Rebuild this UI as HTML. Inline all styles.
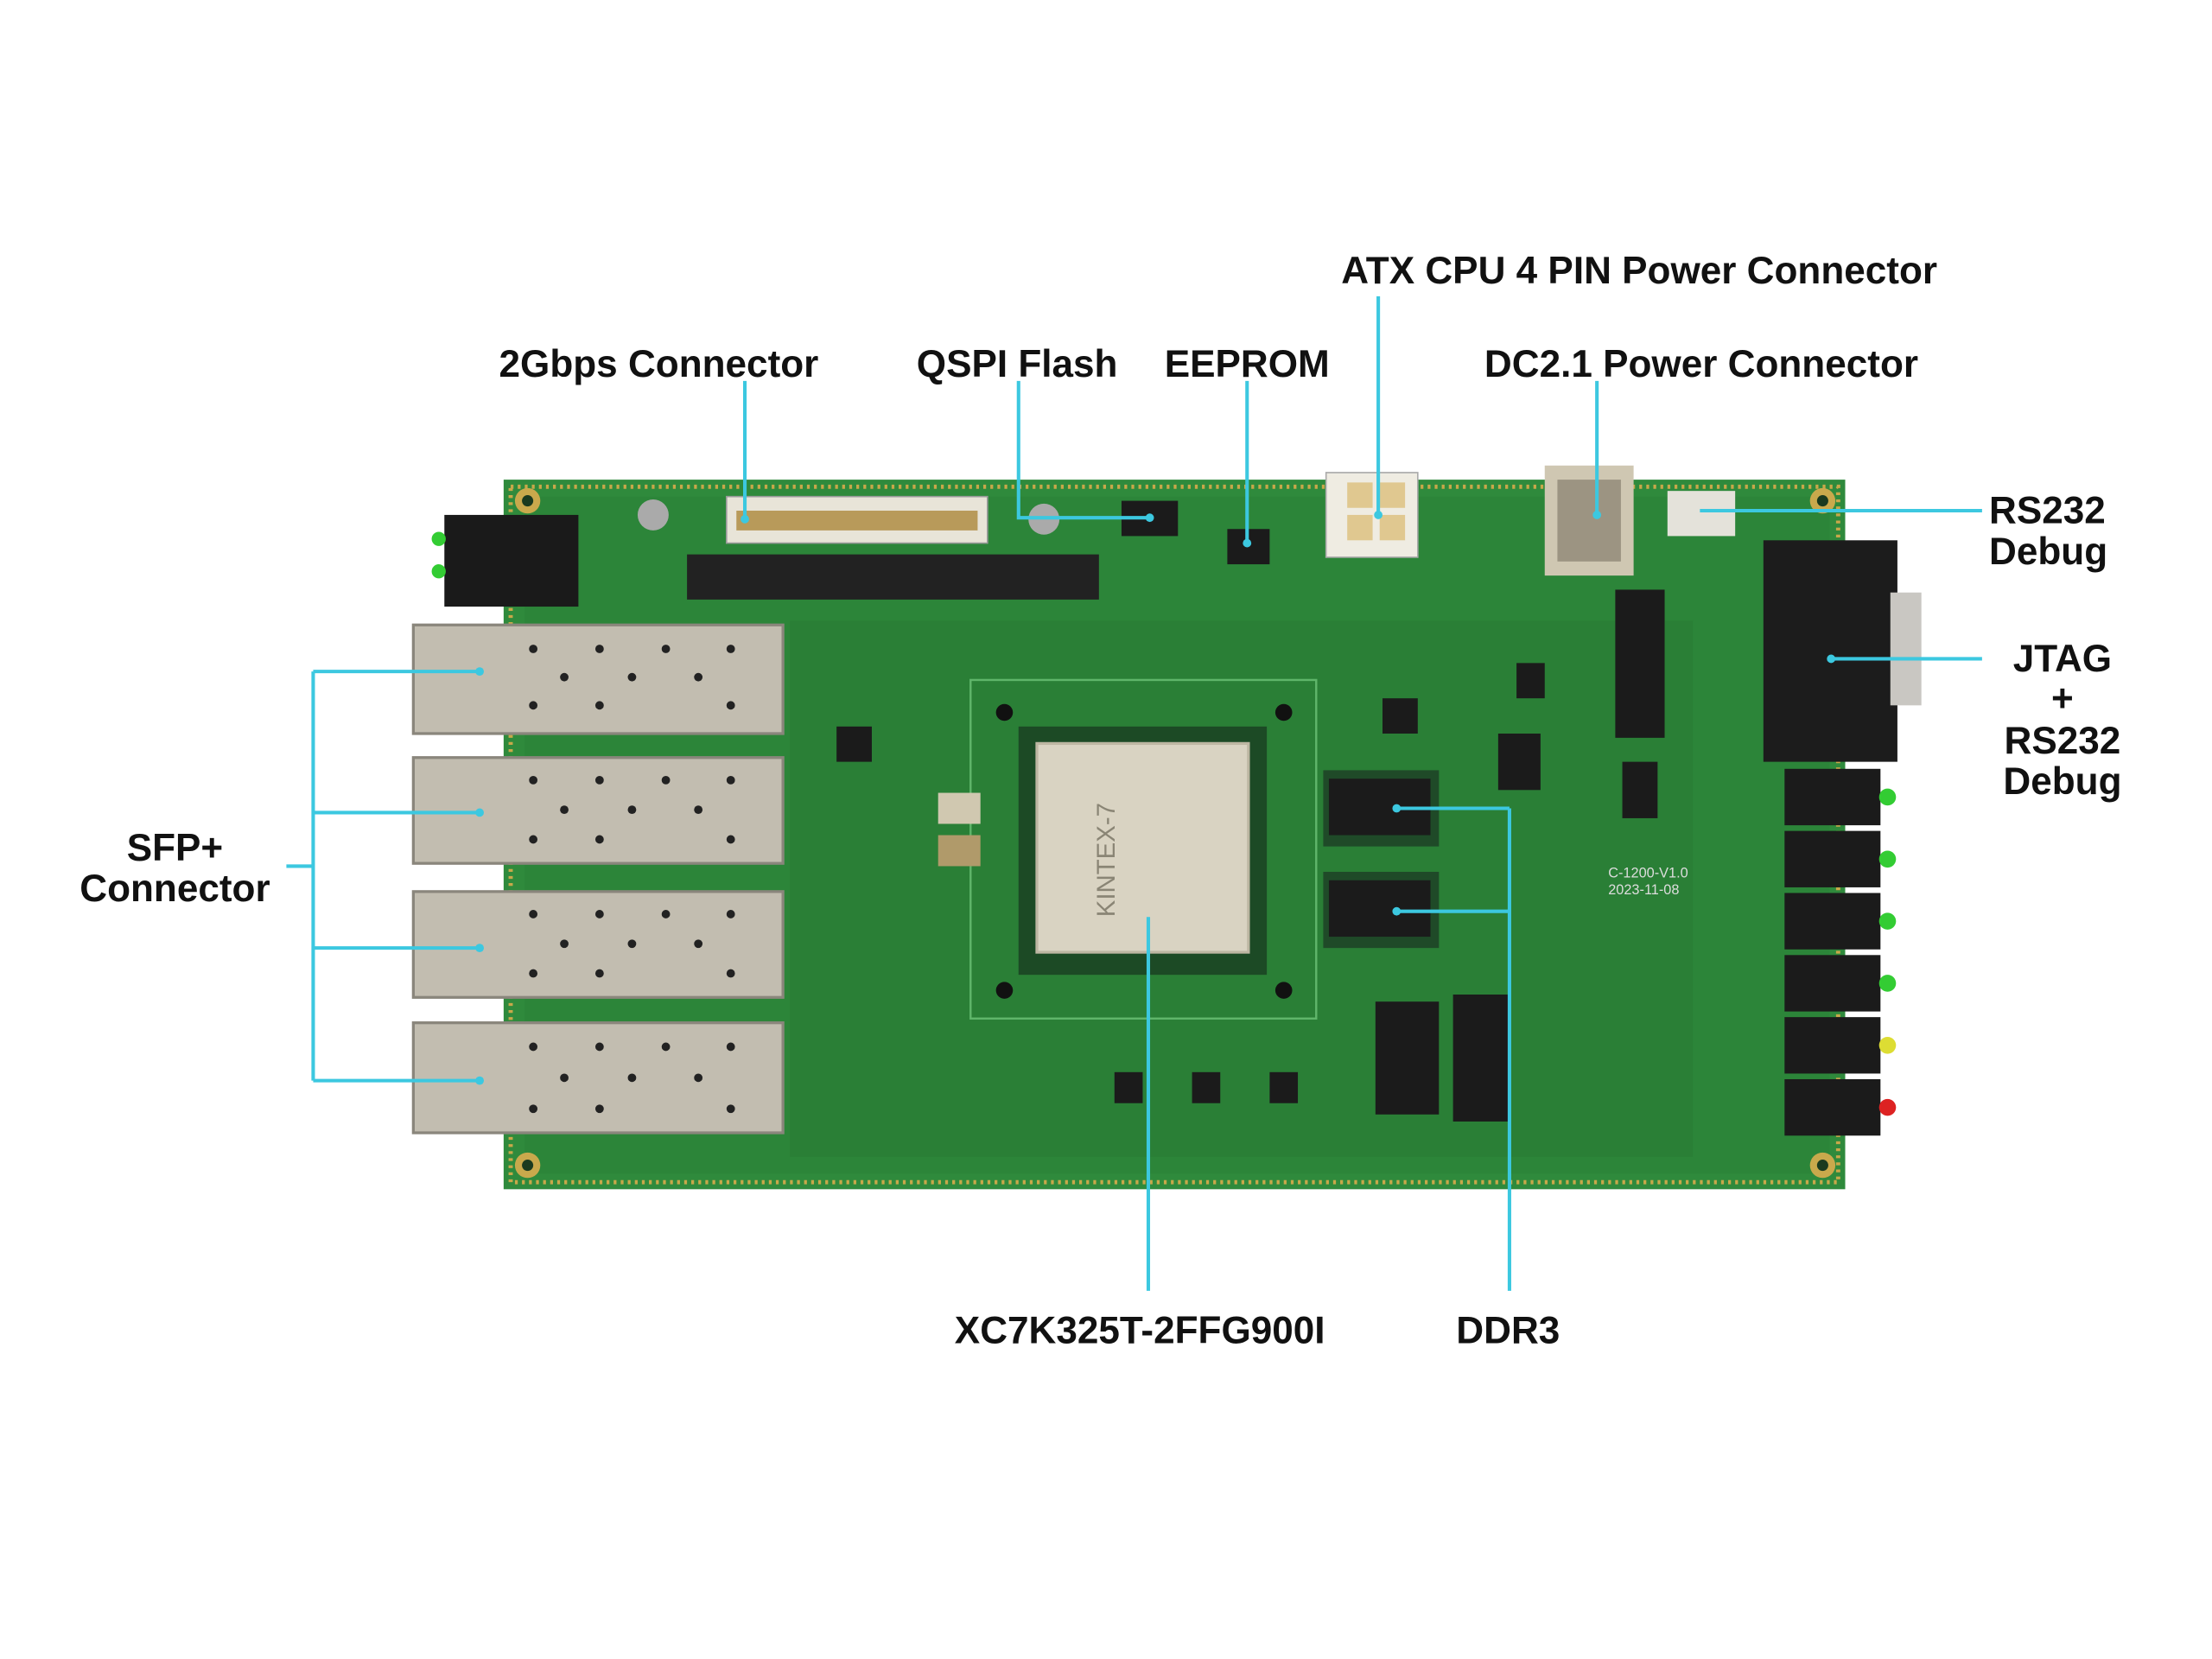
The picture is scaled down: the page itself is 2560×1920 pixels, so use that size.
<!DOCTYPE html>
<html><head><meta charset="utf-8"><style>
html,body{margin:0;padding:0;background:#fff;}
svg{display:block}
text{font-family:"Liberation Sans","DejaVu Sans",sans-serif;font-weight:bold;fill:#111;font-size:27px}
</style></head><body>
<svg width="2560" height="1920" viewBox="0 0 1568 1176" preserveAspectRatio="none" xmlns="http://www.w3.org/2000/svg">
<rect width="1568" height="1176" fill="#fff"/>
<!-- board -->
<rect x="357" y="340" width="951" height="503" fill="#2f8a3c"/>
<rect x="362" y="345" width="941" height="493" fill="none" stroke="#c8a84a" stroke-width="3" stroke-dasharray="2 3"/>
<rect x="372" y="352" width="925" height="480" fill="#2c8539"/>
<rect x="560" y="440" width="640" height="380" fill="#2a7f36"/>
<g fill="#c9a94c"><circle cx="374" cy="355" r="9"/><circle cx="1292" cy="355" r="9"/><circle cx="374" cy="826" r="9"/><circle cx="1292" cy="826" r="9"/></g>
<g fill="#1a3a1f"><circle cx="374" cy="355" r="4"/><circle cx="1292" cy="355" r="4"/><circle cx="374" cy="826" r="4"/><circle cx="1292" cy="826" r="4"/></g>
<!-- FPGA area -->
<rect x="688" y="482" width="245" height="240" fill="none" stroke="#5fb56a" stroke-width="1.5"/>
<rect x="722" y="515" width="176" height="176" fill="#1c4a25"/>
<rect x="735" y="527" width="150" height="148" fill="#d9d3c2" stroke="#bdb6a2" stroke-width="2"/>
<text x="0" y="0" transform="translate(790,650) rotate(-90)" style="font-size:18px;font-weight:normal;fill:#8a8575">KINTEX-7</text>
<g fill="#111"><circle cx="712" cy="505" r="6"/><circle cx="910" cy="505" r="6"/><circle cx="712" cy="702" r="6"/><circle cx="910" cy="702" r="6"/></g>
<!-- DDR -->
<rect x="938" y="546" width="82" height="54" fill="#1f4a28"/><rect x="942" y="552" width="72" height="40" fill="#1b1b1b"/>
<rect x="938" y="618" width="82" height="54" fill="#1f4a28"/><rect x="942" y="624" width="72" height="40" fill="#1b1b1b"/>
<!-- top connector and chips -->
<rect x="515" y="352" width="185" height="33" fill="#e8e4d8" stroke="#999"/>
<rect x="522" y="362" width="171" height="14" fill="#b89a5a"/>
<rect x="487" y="393" width="292" height="32" fill="#222"/>
<circle cx="463" cy="365" r="11" fill="#aaa"/><circle cx="740" cy="368" r="11" fill="#aaa"/>
<rect x="795" y="355" width="40" height="25" fill="#1b1b1b"/>
<rect x="870" y="375" width="30" height="25" fill="#1b1b1b"/>
<rect x="315" y="365" width="95" height="65" fill="#1a1a1a"/>
<circle cx="311" cy="382" r="5" fill="#3c3"/><circle cx="311" cy="405" r="5" fill="#3c3"/>
<!-- ATX -->
<rect x="940" y="335" width="65" height="60" fill="#efece2" stroke="#aaa"/>
<rect x="955" y="342" width="18" height="18" fill="#e0c890"/><rect x="978" y="342" width="18" height="18" fill="#e0c890"/>
<rect x="955" y="365" width="18" height="18" fill="#e0c890"/><rect x="978" y="365" width="18" height="18" fill="#e0c890"/>
<!-- DC jack -->
<rect x="1095" y="330" width="63" height="78" fill="#cfc7b2"/><rect x="1104" y="340" width="45" height="58" fill="#9c9482"/>
<rect x="1182" y="348" width="48" height="32" fill="#e4e2da"/>
<!-- JTAG header, DB9 -->
<rect x="1145" y="418" width="35" height="105" fill="#1b1b1b"/>
<rect x="1250" y="383" width="95" height="157" fill="#1c1c1c"/>
<rect x="1340" y="420" width="22" height="80" fill="#c9c7c2"/>
<rect x="1062" y="520" width="30" height="40" fill="#1b1b1b"/>
<rect x="1030" y="705" width="40" height="90" fill="#1b1b1b"/>
<!-- right headers -->
<g fill="#1b1b1b">
<rect x="1265" y="545" width="68" height="40"/><rect x="1265" y="589" width="68" height="40"/><rect x="1265" y="633" width="68" height="40"/>
<rect x="1265" y="677" width="68" height="40"/><rect x="1265" y="721" width="68" height="40"/><rect x="1265" y="765" width="68" height="40"/></g>
<g><circle cx="1338" cy="565" r="6" fill="#3c3"/><circle cx="1338" cy="609" r="6" fill="#3c3"/><circle cx="1338" cy="653" r="6" fill="#3c3"/><circle cx="1338" cy="697" r="6" fill="#3c3"/><circle cx="1338" cy="741" r="6" fill="#dd3"/><circle cx="1338" cy="785" r="6" fill="#d22"/></g>
<text x="1140" y="622" style="font-size:10px;font-weight:normal;fill:#ddd">C-1200-V1.0</text>
<text x="1140" y="634" style="font-size:10px;font-weight:normal;fill:#ddd">2023-11-08</text>
<!-- misc chips -->
<g fill="#1b1b1b">
<rect x="593" y="515" width="25" height="25"/><rect x="980" y="495" width="25" height="25"/><rect x="1075" y="470" width="20" height="25"/>
<rect x="790" y="760" width="20" height="22"/><rect x="845" y="760" width="20" height="22"/><rect x="900" y="760" width="20" height="22"/>
<rect x="975" y="710" width="45" height="80"/><rect x="1150" y="540" width="25" height="40"/>
</g>
<rect x="665" y="562" width="30" height="22" fill="#d0c8b0"/><rect x="665" y="592" width="30" height="22" fill="#b09a6a"/>
<!-- SFP cages -->
<g fill="#c2bdb0" stroke="#8a867c" stroke-width="2">
<rect x="293" y="443" width="262" height="77"/><rect x="293" y="537" width="262" height="75"/>
<rect x="293" y="632" width="262" height="75"/><rect x="293" y="725" width="262" height="78"/></g>
<g fill="#222">
<circle cx="378" cy="460" r="3"/><circle cx="425" cy="460" r="3"/><circle cx="472" cy="460" r="3"/><circle cx="518" cy="460" r="3"/><circle cx="400" cy="480" r="3"/><circle cx="448" cy="480" r="3"/><circle cx="495" cy="480" r="3"/><circle cx="378" cy="500" r="3"/><circle cx="425" cy="500" r="3"/><circle cx="518" cy="500" r="3"/>
<circle cx="378" cy="553" r="3"/><circle cx="425" cy="553" r="3"/><circle cx="472" cy="553" r="3"/><circle cx="518" cy="553" r="3"/><circle cx="400" cy="574" r="3"/><circle cx="448" cy="574" r="3"/><circle cx="495" cy="574" r="3"/><circle cx="378" cy="595" r="3"/><circle cx="425" cy="595" r="3"/><circle cx="518" cy="595" r="3"/>
<circle cx="378" cy="648" r="3"/><circle cx="425" cy="648" r="3"/><circle cx="472" cy="648" r="3"/><circle cx="518" cy="648" r="3"/><circle cx="400" cy="669" r="3"/><circle cx="448" cy="669" r="3"/><circle cx="495" cy="669" r="3"/><circle cx="378" cy="690" r="3"/><circle cx="425" cy="690" r="3"/><circle cx="518" cy="690" r="3"/>
<circle cx="378" cy="742" r="3"/><circle cx="425" cy="742" r="3"/><circle cx="472" cy="742" r="3"/><circle cx="518" cy="742" r="3"/><circle cx="400" cy="764" r="3"/><circle cx="448" cy="764" r="3"/><circle cx="495" cy="764" r="3"/><circle cx="378" cy="786" r="3"/><circle cx="425" cy="786" r="3"/><circle cx="518" cy="786" r="3"/>
</g>
<!-- leader lines -->
<g stroke="#3cc8e0" stroke-width="2.5" fill="none">
<path d="M528 270V368"/><path d="M722 270V367H815"/><path d="M884 270V385"/>
<path d="M977 210V365"/><path d="M1132 270V365"/><path d="M1205 362H1405"/><path d="M1298 467H1405"/>
<path d="M222 476V766M222 476H340M222 576H340M222 672H340M222 766H340M203 614H222"/>
<path d="M814 650V915"/><path d="M1070 573V915M990 573H1070M990 646H1070"/>
</g>
<g fill="#3cc8e0"><circle cx="528" cy="368" r="3"/><circle cx="815" cy="367" r="3"/><circle cx="884" cy="385" r="3"/><circle cx="977" cy="365" r="3"/><circle cx="1132" cy="365" r="3"/><circle cx="1298" cy="467" r="3"/><circle cx="340" cy="476" r="3"/><circle cx="340" cy="576" r="3"/><circle cx="340" cy="672" r="3"/><circle cx="340" cy="766" r="3"/><circle cx="990" cy="573" r="3"/><circle cx="990" cy="646" r="3"/></g>
<!-- labels -->
<text x="467" y="267" text-anchor="middle">2Gbps Connector</text>
<text x="721" y="267" text-anchor="middle">QSPI Flash</text>
<text x="884" y="267" text-anchor="middle">EEPROM</text>
<text x="1162" y="201" text-anchor="middle">ATX CPU 4 PIN Power Connector</text>
<text x="1206" y="267" text-anchor="middle">DC2.1 Power Connector</text>
<text x="1410" y="371">RS232</text>
<text x="1410" y="400">Debug</text>
<text x="1462" y="476" text-anchor="middle">JTAG</text>
<text x="1462" y="504" text-anchor="middle">+</text>
<text x="1462" y="534" text-anchor="middle">RS232</text>
<text x="1462" y="563" text-anchor="middle">Debug</text>
<text x="124" y="610" text-anchor="middle">SFP+</text>
<text x="124" y="639" text-anchor="middle">Connector</text>
<text x="808" y="952" text-anchor="middle">XC7K325T-2FFG900I</text>
<text x="1069" y="952" text-anchor="middle">DDR3</text>
</svg>
</body></html>
